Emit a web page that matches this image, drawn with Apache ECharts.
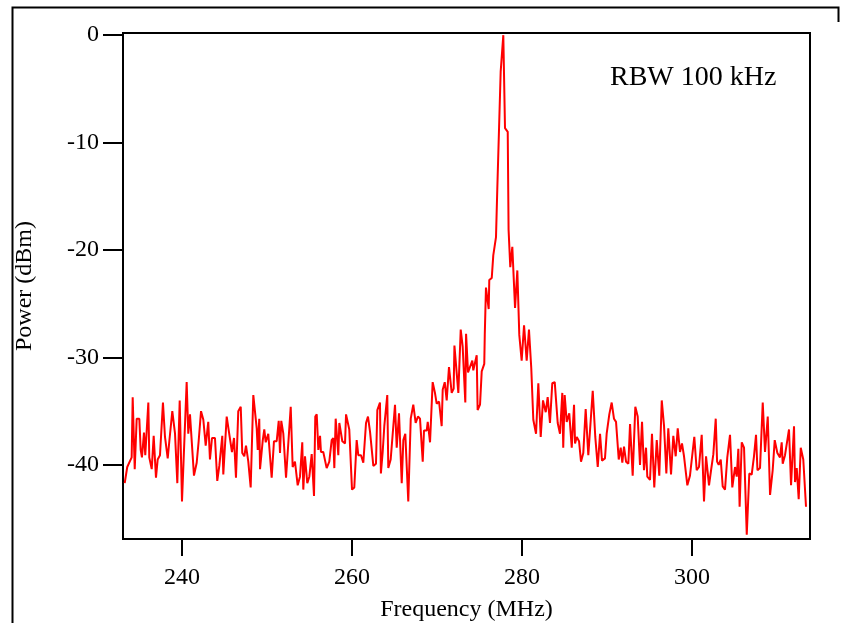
<!DOCTYPE html>
<html>
<head>
<meta charset="utf-8">
<script src="https://cdn.jsdelivr.net/npm/echarts@6/dist/echarts.min.js"></script>
<style>
  html, body { margin: 0; padding: 0; background: #fff; }
  #chart { width: 847px; height: 623px; }
</style>
</head>
<body>
<div id="chart"></div>
<script>
// Spectrum analyser trace around the 278 MHz carrier (RBW 100 kHz)
const freqMHz = [
  233.26, 233.56, 234.08, 234.2, 234.44, 234.67, 234.98, 235.14, 235.29, 235.53,
  235.68, 236.04, 236.15, 236.44, 236.67, 236.94, 237.14, 237.41, 237.76, 238.0,
  238.32, 238.51, 238.86, 239.18, 239.45, 239.73, 240.0, 240.55, 240.74, 240.94,
  241.14, 241.41, 241.73, 241.96, 242.24, 242.51, 242.79, 243.09, 243.29, 243.53,
  243.88, 244.15, 244.39, 244.74, 244.86, 245.06, 245.26, 245.61, 245.88, 246.12,
  246.35, 246.62, 246.91, 247.09, 247.33, 247.53, 247.8, 248.08, 248.39, 248.79,
  248.91, 249.09, 249.18, 249.49, 249.68, 249.85, 250.15, 250.55, 250.82, 251.14,
  251.38, 251.53, 251.68, 251.92, 252.24, 252.79, 253.02, 253.29, 253.61, 253.88,
  254.15, 254.27, 254.47, 254.74, 254.98, 255.26, 255.53, 255.68, 255.85, 256.04,
  256.24, 256.35, 256.62, 257.02, 257.33, 257.61, 257.8, 257.92, 258.08, 258.39,
  258.51, 258.86, 259.18, 259.3, 259.68, 260.0, 260.27, 260.55, 260.74, 261.06,
  261.33, 261.65, 261.88, 262.12, 262.51, 262.82, 262.98, 263.29, 263.4, 263.61,
  263.8, 264.15, 264.27, 264.55, 264.67, 265.06, 265.26, 265.53, 265.85, 266.04,
  266.27, 266.62, 266.91, 267.21, 267.49, 267.76, 268.0, 268.32, 268.47, 268.79,
  268.91, 269.18, 269.49, 269.76, 269.96, 270.24, 270.55, 270.67, 270.91, 271.14,
  271.41, 271.73, 271.96, 272.05, 272.51, 272.79, 273.02, 273.33, 273.42, 273.65,
  273.88, 274.15, 274.27, 274.67, 274.78, 275.06, 275.26, 275.56, 275.62, 275.76,
  276.08, 276.15, 276.44, 276.62, 276.94, 277.09, 277.49, 277.8, 278.0, 278.32,
  278.42, 278.62, 278.86, 279.18, 279.45, 279.68, 279.96, 280.24, 280.55, 280.82,
  281.09, 281.33, 281.65, 281.92, 282.2, 282.47, 282.79, 283.02, 283.29, 283.56,
  283.85, 284.2, 284.47, 284.74, 284.85, 285.02, 285.26, 285.56, 285.85, 286.12,
  286.24, 286.44, 286.71, 286.94, 287.21, 287.49, 287.8, 288.32, 288.62, 288.91,
  289.18, 289.41, 289.76, 289.96, 290.27, 290.55, 290.82, 291.06, 291.38, 291.61,
  291.8, 292.0, 292.24, 292.51, 292.71, 293.02, 293.33, 293.61, 293.88, 294.12,
  294.35, 294.59, 294.74, 295.06, 295.29, 295.56, 295.85, 296.15, 296.44, 296.71,
  296.98, 297.21, 297.53, 297.8, 298.08, 298.32, 298.59, 298.82, 299.06, 299.45,
  299.76, 300.27, 300.55, 300.82, 301.14, 301.41, 301.65, 302.0, 302.24, 302.51,
  302.79, 302.95, 303.14, 303.38, 303.61, 303.88, 304.15, 304.47, 304.74, 305.06,
  305.26, 305.45, 305.6, 305.85, 306.12, 306.44, 306.74, 307.02, 307.29, 307.53,
  307.7, 308.0, 308.32, 308.59, 308.91, 309.18, 309.49, 309.73, 310.04, 310.35,
  310.55, 310.67, 310.94, 311.14, 311.41, 311.65, 312.0, 312.12, 312.32, 312.55,
  312.79, 313.09, 313.41
];

const powerDbm = [
  -41.7, -40.2, -39.3, -33.7, -40.4, -35.7, -35.7, -38.6, -39.3, -37.0,
  -39.1, -34.2, -39.3, -40.4, -37.3, -41.2, -39.5, -39.1, -34.2, -37.4,
  -39.4, -37.8, -35.0, -37.1, -41.7, -34.0, -43.4, -32.3, -37.1, -35.3,
  -35.3, -41.0, -39.8, -37.8, -35.0, -35.8, -38.2, -36.0, -39.5, -37.5,
  -37.5, -41.5, -40.1, -37.3, -40.9, -40.8, -35.5, -37.4, -38.8, -37.5,
  -41.2, -35.0, -34.6, -38.9, -39.2, -38.2, -39.7, -42.1, -33.5, -36.6,
  -38.6, -35.7, -40.4, -37.8, -36.7, -37.9, -37.1, -41.2, -37.8, -37.8,
  -35.9, -38.9, -35.9, -37.1, -41.2, -34.6, -40.2, -39.7, -41.9, -41.1,
  -37.9, -42.3, -39.2, -41.7, -41.1, -39.0, -42.9, -35.5, -35.3, -38.6,
  -37.3, -38.8, -38.8, -40.3, -39.7, -37.7, -37.5, -40.3, -35.7, -39.1,
  -36.1, -37.8, -38.0, -35.3, -36.7, -42.3, -42.1, -37.7, -39.1, -39.1,
  -39.8, -36.1, -35.5, -36.9, -40.1, -39.9, -34.9, -34.2, -40.8, -38.8,
  -36.4, -33.5, -40.3, -39.5, -38.3, -34.4, -38.4, -35.2, -41.7, -37.7,
  -37.1, -43.4, -35.7, -34.4, -36.1, -35.5, -35.7, -39.7, -36.8, -36.8,
  -36.0, -37.9, -32.3, -33.3, -34.3, -34.1, -36.4, -33.0, -32.3, -34.0,
  -30.9, -33.3, -32.9, -28.9, -33.3, -27.4, -29.0, -34.2, -27.8, -31.4,
  -31.3, -30.3, -31.2, -29.8, -34.9, -34.4, -31.3, -30.6, -27.9, -23.5,
  -25.5, -22.8, -22.6, -20.5, -18.8, -14.4, -3.4, 0.0, -8.65, -9.0,
  -18.1, -21.6, -19.7, -25.4, -21.9, -27.9, -30.3, -27.0, -30.3, -27.4,
  -31.0, -35.8, -37.1, -32.4, -37.4, -34.0, -35.1, -33.7, -36.1, -32.4,
  -32.3, -36.1, -37.1, -33.3, -38.4, -33.5, -36.0, -35.2, -38.4, -34.4,
  -38.0, -37.4, -37.8, -39.7, -38.9, -34.8, -39.1, -33.1, -37.4, -40.2,
  -37.1, -39.6, -39.4, -37.1, -35.3, -34.2, -35.7, -36.0, -39.5, -38.4,
  -39.8, -38.3, -39.7, -39.9, -36.2, -41.0, -34.6, -35.5, -40.0, -36.0,
  -40.5, -38.4, -41.1, -41.4, -37.1, -42.1, -37.7, -41.0, -34.0, -36.4,
  -40.8, -36.6, -40.9, -37.3, -39.2, -36.6, -38.8, -38.0, -39.2, -41.9,
  -41.0, -37.4, -40.5, -40.2, -37.2, -43.4, -39.2, -41.9, -40.5, -39.0,
  -35.7, -39.7, -40.0, -39.5, -42.0, -42.3, -39.3, -37.2, -42.1, -40.2,
  -41.1, -38.5, -43.9, -37.9, -38.4, -46.5, -40.8, -40.9, -39.2, -37.2,
  -40.5, -40.3, -34.2, -38.8, -35.5, -42.8, -40.5, -37.7, -38.9, -39.3,
  -37.9, -39.9, -39.1, -39.2, -36.7, -41.9, -36.4, -41.6, -40.3, -43.2,
  -38.4, -39.5, -43.9
];

// Axis extents and tick positions
const freqRange = [233.06, 313.88];
const powerRange = [-46.9, 0.2];
const freqTicks = [240, 260, 280, 300];
const powerTicks = [-40, -30, -20, -10, 0];

const annotation = 'RBW 100 kHz';
const serif = '"Liberation Serif", "Times New Roman", serif';

const trace = freqMHz.map((f, i) => [f, powerDbm[i]]);

const chart = echarts.init(document.getElementById('chart'), null, { renderer: 'canvas' });

chart.setOption({
  animation: false,
  backgroundColor: '#ffffff',
  grid: {
    left: 123, right: 37, top: 33, bottom: 84,
    show: true,
    borderColor: '#000',
    borderWidth: 2,
    backgroundColor: 'transparent',
    outerBoundsMode: 'none'
  },
  xAxis: {
    type: 'value',
    min: freqRange[0],
    max: freqRange[1],
    name: 'Frequency (MHz)',
    nameLocation: 'middle',
    nameGap: 59,
    nameTextStyle: { fontFamily: serif, fontSize: 24, color: '#000' },
    axisLine: { show: true, onZero: false, lineStyle: { color: '#000', width: 2 } },
    axisTick: {
      show: true, inside: false, length: 17,
      customValues: freqTicks,
      lineStyle: { color: '#000', width: 2 }
    },
    axisLabel: {
      show: true, margin: 27,
      customValues: freqTicks,
      fontFamily: serif, fontSize: 24, color: '#000'
    },
    splitLine: { show: false }
  },
  yAxis: {
    type: 'value',
    min: powerRange[0],
    max: powerRange[1],
    name: 'Power (dBm)',
    nameLocation: 'middle',
    nameGap: 86,
    nameRotate: 90,
    nameTextStyle: { fontFamily: serif, fontSize: 24, color: '#000' },
    axisLine: { show: true, onZero: false, lineStyle: { color: '#000', width: 2 } },
    axisTick: {
      show: true, inside: false, length: 20,
      customValues: powerTicks,
      lineStyle: { color: '#000', width: 2 }
    },
    axisLabel: {
      show: true, margin: 24,
      customValues: powerTicks,
      fontFamily: serif, fontSize: 24, color: '#000'
    },
    splitLine: { show: false }
  },
  series: [{
    type: 'line',
    data: trace,
    showSymbol: false,
    symbol: 'none',
    clip: true,
    lineStyle: { color: '#ff0000', width: 2 },
    z: 3
  }],
  graphic: [
    {
      type: 'text',
      left: 610, top: 64,
      style: { text: annotation, font: '28px ' + serif, fill: '#000' }
    },
    {
      type: 'polyline',
      shape: { points: [[12.5, 623], [12.5, 7.5], [838.5, 7.5], [838.5, 22]] },
      style: { stroke: '#000', lineWidth: 2, fill: null }
    }
  ]
});
</script>
</body>
</html>
